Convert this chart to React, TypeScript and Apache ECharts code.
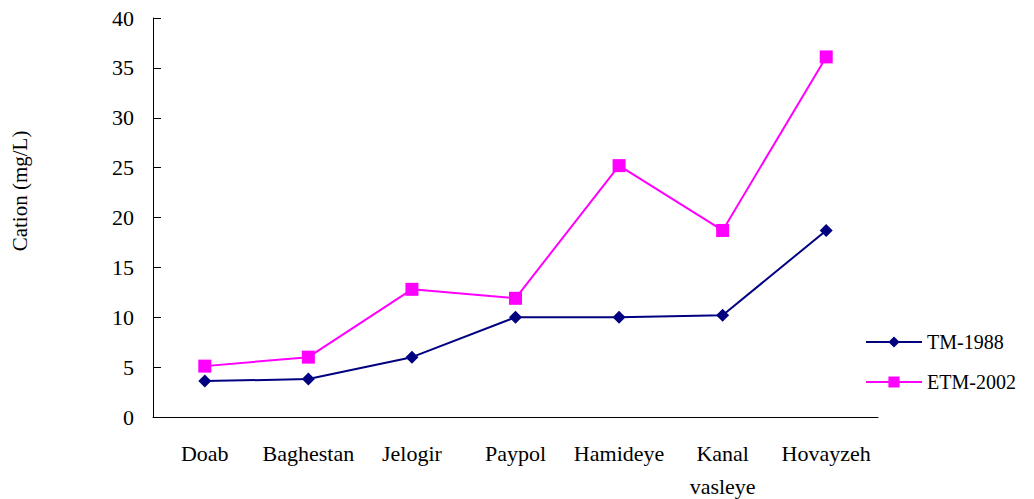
import React, { useEffect, useRef } from "react";
import * as echarts from "echarts";

const categories = ["Doab", "Baghestan", "Jelogir", "Paypol", "Hamideye", "Kanal\nvasleye", "Hovayzeh"];
const tm1988 = [3.6, 3.8, 6.0, 10.0, 10.0, 10.2, 18.7];
const etm2002 = [5.1, 6.0, 12.8, 11.9, 25.2, 18.7, 36.1];
const seriesNames = ["TM-1988", "ETM-2002"];
const yAxisTitle = "Cation (mg/L)";

const FONT = "'Liberation Serif', 'Times New Roman', serif";

export default function App() {
  const ref = useRef<HTMLDivElement>(null);
  useEffect(() => {
    if (!ref.current) return;
    const chart = echarts.init(ref.current, null, { renderer: "svg" });
    chart.setOption({
      animation: false,
      backgroundColor: "#ffffff",
      grid: { left: 153, right: 156, top: 18, bottom: 82, outerBoundsMode: "none", containLabel: false },
      legend: {
        orient: "vertical",
        left: 865,
        top: 332,
        padding: 0,
        itemWidth: 56,
        itemHeight: 14,
        itemGap: 20,
        textStyle: { fontFamily: FONT, fontSize: 20, color: "#000" },
        data: seriesNames,
      },
      graphic: [
        {
          type: "text",
          x: 20,
          y: 191,
          rotation: Math.PI / 2,
          style: {
            text: yAxisTitle,
            fontFamily: FONT,
            fontSize: 21,
            fill: "#000",
            align: "center",
            verticalAlign: "middle",
          },
        },
      ],
      xAxis: {
        type: "category",
        data: categories,
        boundaryGap: true,
        axisLine: { lineStyle: { color: "#000", width: 1 } },
        axisTick: { inside: true, length: 8, lineStyle: { color: "#000" } },
        axisLabel: {
          fontFamily: FONT,
          fontSize: 22,
          color: "#000",
          margin: 20,
          lineHeight: 33,
          interval: 0,
        },
      },
      yAxis: {
        type: "value",
        min: 0,
        max: 40,
        interval: 5,
        axisLine: { show: true, lineStyle: { color: "#000", width: 1 } },
        axisTick: { show: true, inside: true, length: 8, lineStyle: { color: "#000" } },
        splitLine: { show: false },
        axisLabel: { fontFamily: FONT, fontSize: 22, color: "#000", margin: 19 },
      },
      series: [
        {
          name: seriesNames[0],
          type: "line",
          data: tm1988,
          symbol: "diamond",
          symbolSize: 13,
          lineStyle: { color: "#000080", width: 2 },
          itemStyle: { color: "#000080" },
        },
        {
          name: seriesNames[1],
          type: "line",
          data: etm2002,
          symbol: "rect",
          symbolSize: 13,
          lineStyle: { color: "#ff00ff", width: 2 },
          itemStyle: { color: "#ff00ff" },
        },
      ],
    });
    return () => chart.dispose();
  }, []);
  return <div ref={ref} style={{ width: 1034, height: 499, position: "absolute", left: 0, top: 0 }} />;
}
